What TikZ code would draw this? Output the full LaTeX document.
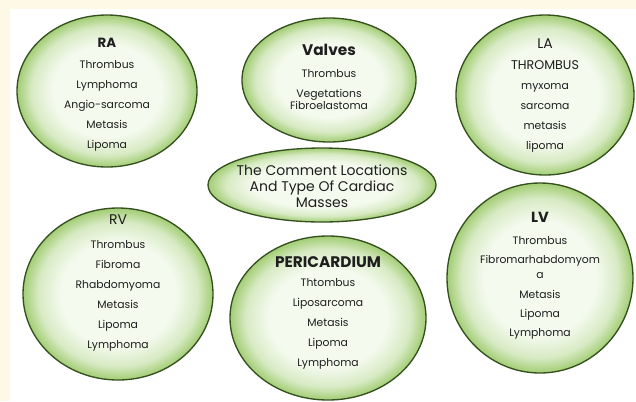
\documentclass[tikz,border=0pt]{standalone}
\usepackage{fontspec}
\setmainfont{Poppins}
\usetikzlibrary{shapes.geometric}
\definecolor{pagecream}{HTML}{FDF9E6}
\definecolor{rimgreen}{HTML}{A2CD74}
\definecolor{palegreen}{HTML}{F5FAEF}
\definecolor{edgegreen}{HTML}{35501F}
\definecolor{inktext}{HTML}{1E1E1E}
\pgfdeclareradialshading{bubbleshade}{\pgfpoint{0bp}{0bp}}{color(0bp)=(palegreen); color(15bp)=(palegreen); color(21bp)=(rimgreen!35!palegreen); color(25bp)=(rimgreen); color(50bp)=(rimgreen)}
\begin{document}
\begin{tikzpicture}[x=0.75pt,y=-0.75pt,
  bubble/.style={ellipse, draw=edgegreen, line width=1pt, shading=bubbleshade, inner sep=0pt},
  list/.style={align=center, text=inktext, font=\fontsize{8.1}{15}\selectfont},
  head/.style={text=inktext, font=\bfseries\fontsize{10}{11}\selectfont},
  plainhead/.style={text=inktext, font=\fontsize{10.5}{11}\selectfont}]
\fill[pagecream] (0,0) rectangle (636,401);
\fill[white] (10,9) rectangle (636,401);
\useasboundingbox (0,0) rectangle (636,401);

% the seven locations
\node[bubble, minimum width=135pt, minimum height=114pt] (ra) at (107,91) {};
\node[bubble, minimum width=130.5pt, minimum height=93pt] (valves) at (329,80) {};
\node[bubble, minimum width=133.5pt, minimum height=120pt] (la) at (545,95) {};
\node[bubble, minimum width=171pt, minimum height=55.5pt] (centre) at (322,185) {};
\node[bubble, minimum width=142.5pt, minimum height=129pt] (rv) at (118,294) {};
\node[bubble, minimum width=147pt, minimum height=123pt] (peri) at (328,318) {};
\node[bubble, minimum width=139.5pt, minimum height=142.5pt] (lv) at (540,278) {};

\node[head] (ra-title) at (107,43) {RA};
\node[list] (ra-list) at (107,106) {Thrombus\\Lymphoma\\Angio-sarcoma\\Metasis\\Lipoma};

\node[head, font=\bfseries\fontsize{11.5}{12}\selectfont] (valves-title) at (329,50) {Valves};
\node[list] (valves-list) at (329,90) {Thrombus\\Vegetations\\[-6pt]Fibroelastoma};

\node[plainhead] (la-title) at (545,44) {LA};
\node[list] (la-list) at (545,106) {{\fontsize{9.5}{15}\selectfont THROMBUS}\\myxoma\\sarcoma\\metasis\\lipoma};

\node[list, font=\fontsize{10.5}{12}\selectfont] (centre-text) at (322,186) {The Comment Locations\\And Type Of Cardiac\\Masses};

\node[plainhead] (rv-title) at (118,220) {RV};
\node[list] (rv-list) at (118,296) {Thrombus\\Fibroma\\Rhabdomyoma\\Metasis\\Lipoma\\Lymphoma};

\node[head, font=\bfseries\fontsize{11.5}{12}\selectfont] (peri-title) at (328,262) {PERICARDIUM};
\node[list] (peri-list) at (328,324) {Thtombus\\Liposarcoma\\Metasis\\Lipoma\\Lymphoma};

\node[head, font=\bfseries\fontsize{11}{12}\selectfont] (lv-title) at (540,217) {LV};
\node[list, font=\fontsize{8.1}{14.5}\selectfont] (lv-list) at (540,288) {Thrombus\\Fibromarhabdomyom\\[-3pt]a\\Metasis\\Lipoma\\Lymphoma};
\end{tikzpicture}
\end{document}
